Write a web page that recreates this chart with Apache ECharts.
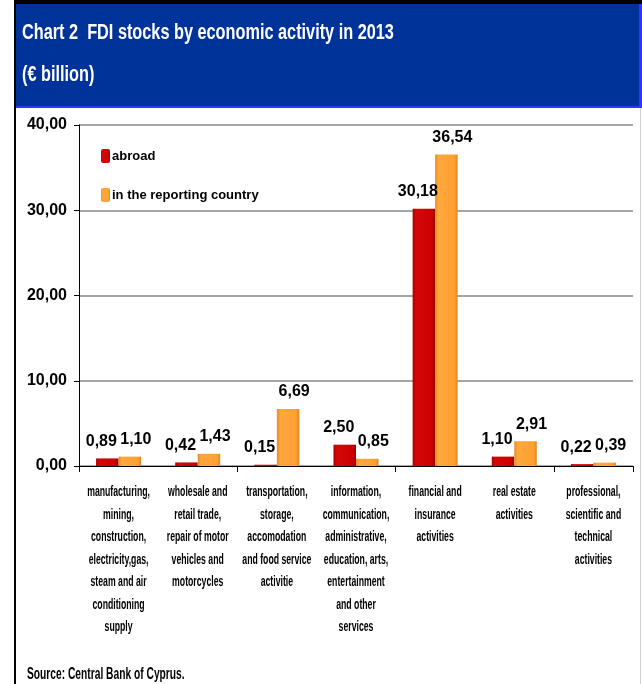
<!DOCTYPE html>
<html><head><meta charset="utf-8">
<script src="https://cdn.jsdelivr.net/npm/echarts@6/dist/echarts.min.js"></script>
<style>html,body{margin:0;padding:0;background:#fff}#c{width:642px;height:684px}</style>
</head><body><div id="c"></div>
<script>
const titleLine1 = 'Chart 2  FDI stocks by economic activity in 2013';
const titleLine2 = '(€ billion)';
const sourceText = 'Source: Central Bank of Cyprus.';
const categories = [
  'manufacturing,\nmining,\nconstruction,\nelectricity,gas,\nsteam and air\nconditioning\nsupply',
  'wholesale and\nretail trade,\nrepair of motor\nvehicles and\nmotorcycles',
  'transportation,\nstorage,\naccomodation\nand food service\nactivitie',
  'information,\ncommunication,\nadministrative,\neducation, arts,\nentertainment\nand other\nservices',
  'financial and\ninsurance\nactivities',
  'real estate\nactivities',
  'professional,\nscientific and\ntechnical\nactivities'
];
const seriesNames = ['abroad', 'in the reporting country'];
const abroad = [0.89, 0.42, 0.15, 2.50, 30.18, 1.10, 0.22];
const reporting = [1.10, 1.43, 6.69, 0.85, 36.54, 2.91, 0.39];

const FONT = "'Liberation Sans', Arial, sans-serif";
const fmt = v => v.toFixed(2).replace('.', ',');

const redGrad = new echarts.graphic.LinearGradient(0,0,1,0,[
  {offset:0,color:'#a80000'},{offset:0.15,color:'#d40808'},{offset:0.85,color:'#cc0000'},{offset:1,color:'#9a0000'}]);
const orGrad = new echarts.graphic.LinearGradient(0,0,1,0,[
  {offset:0,color:'#e88a20'},{offset:0.15,color:'#ffa83c'},{offset:0.85,color:'#ffa033'},{offset:1,color:'#e08520'}]);

const chart = echarts.init(document.getElementById('c'), null, {renderer:'canvas'});
chart.setOption({
  animation:false,
  backgroundColor:'#fff',
  textStyle:{fontFamily:FONT},
  graphic:[
    {type:'rect', shape:{x:14,y:0,width:628,height:4}, style:{fill:'#000'}},
    {type:'rect', shape:{x:14,y:0,width:2,height:684}, style:{fill:'#000'}},
    {type:'rect', shape:{x:16,y:4,width:626,height:104}, style:{fill:'#3333ff'}},
    {type:'rect', shape:{x:16,y:4,width:623,height:102}, style:{fill:'#003399'}},
    {type:'rect', shape:{x:640,y:108,width:1,height:576}, style:{fill:'#d0d0d0'}},
    {type:'text', x:22, y:33, scaleX:0.74, style:{text:titleLine1, fill:'#fff', font:"bold 22px "+FONT, verticalAlign:'middle'}},
    {type:'text', x:22, y:75, scaleX:0.74, style:{text:titleLine2, fill:'#fff', font:"bold 22px "+FONT, verticalAlign:'middle'}},
    {type:'text', x:27, y:675, scaleX:0.64, style:{text:sourceText, fill:'#000', font:"bold 16px "+FONT, verticalAlign:'middle'}}
  ],
  legend:{
    orient:'vertical', left:96, top:144, itemGap:25, itemWidth:9, itemHeight:14,
    data:seriesNames,
    textStyle:{fontFamily:FONT, fontSize:13, fontWeight:'bold', color:'#000', padding:[0,0,0,-3]}
  },
  grid:{left:79, right:9, top:125, bottom:218, containLabel:false},
  xAxis:{
    type:'category', data:categories,
    axisLine:{lineStyle:{color:'#000', width:1}},
    axisTick:{show:true, length:6, lineStyle:{color:'#000'}},
    axisLabel:{show:false}
  },
  yAxis:{
    type:'value', min:0, max:40, interval:10,
    axisLine:{show:true, lineStyle:{color:'#000'}},
    axisTick:{show:true, length:5, lineStyle:{color:'#000'}},
    splitLine:{lineStyle:{color:'#a6a6a6', width:2}},
    axisLabel:{margin:12, formatter:v=>fmt(v), fontFamily:FONT, fontSize:16, fontWeight:'bold', color:'#000'}
  },
  series:[
    {name:seriesNames[0], type:'bar', data:abroad, barWidth:22.5, barGap:'0%',
     itemStyle:{color:redGrad},
     label:{show:true, position:'top', distance:9, offset:[-6,0], formatter:p=>fmt(p.value), fontFamily:FONT, fontSize:16, fontWeight:'bold', color:'#000'}},
    {name:seriesNames[1], type:'bar', data:reporting, barWidth:22.5, barGap:'0%',
     itemStyle:{color:orGrad},
     label:{show:true, position:'top', distance:9, offset:[6,0], formatter:p=>fmt(p.value), fontFamily:FONT, fontSize:16, fontWeight:'bold', color:'#000'}},
    {name:'catLabels', type:'custom', silent:true, clip:false, z:10,
     data:categories.map((c,i)=>[i,0]),
     renderItem:(params, api)=>{
       const p = api.coord([api.value(0), 0]);
       return {type:'text', x:p[0], y:p[1]+15, scaleX:0.58,
         style:{text:categories[params.dataIndex], fill:'#000', font:"bold 15px "+FONT,
                align:'center', verticalAlign:'top', lineHeight:22.5}};
     }}
  ]
});
</script></body></html>
